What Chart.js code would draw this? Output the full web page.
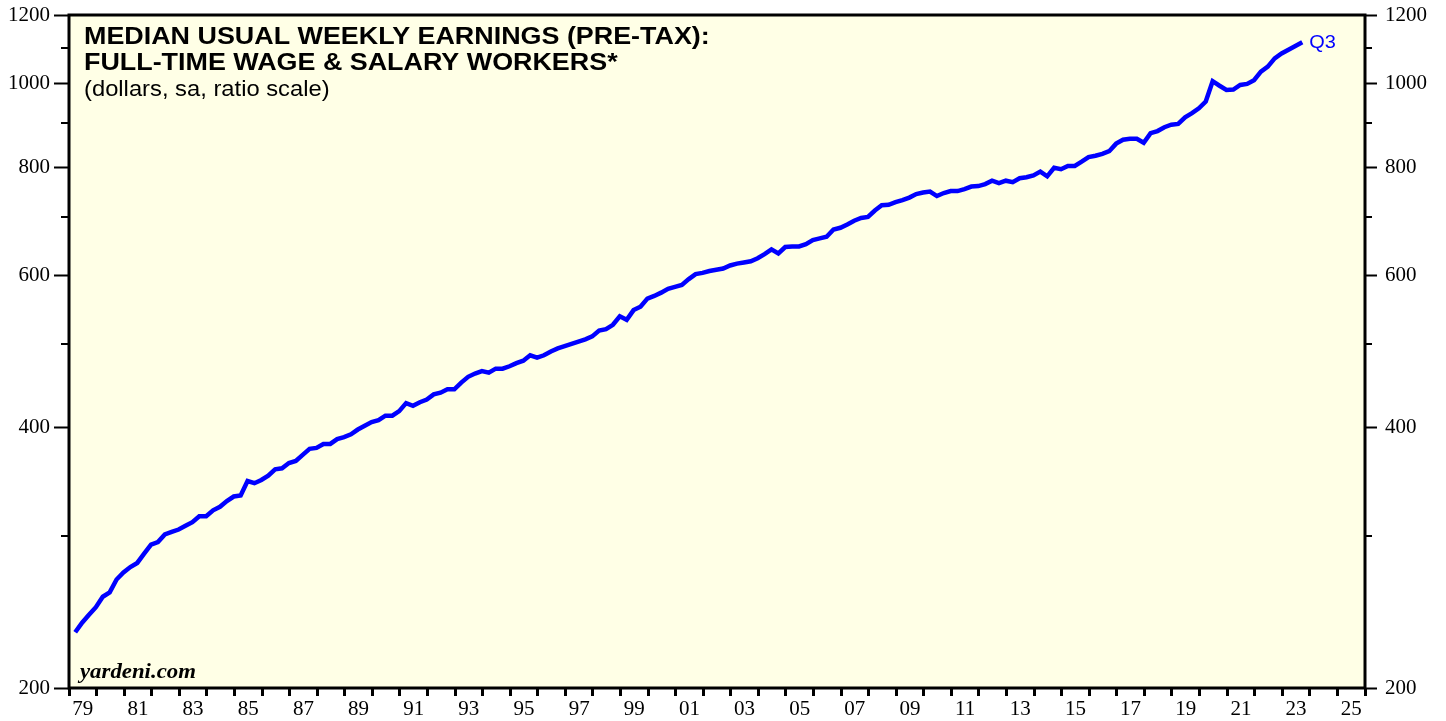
<!DOCTYPE html>
<html lang="en">
<head>
    <meta charset="UTF-8">
    <meta name="viewport" content="width=device-width, initial-scale=1.0">
    <title>Median Usual Weekly Earnings</title>
    <script src="https://cdn.jsdelivr.net/npm/chart.js"></script>
    <style>
        html, body { margin: 0; padding: 0; background: #ffffff; }
        #wrap { width: 1446px; height: 721px; }
    </style>
</head>
<body>
    <div id="wrap"><canvas id="earningsChart" width="1446" height="721"></canvas></div>

    <script>
        // median usual weekly earnings, full-time wage & salary workers
        // quarterly, 1979 Q1 .. 2023 Q3, dollars
        const firstYear = 1979;
        const weeklyEarnings = [
            232, 238, 243, 248,   // 1979
            255, 258, 267, 272,   // 1980
            276, 279, 286, 293,   // 1981
            295, 301, 303, 305,   // 1982
            308, 311, 316, 316,   // 1983
            321, 324, 329, 333,   // 1984
            334, 347, 345, 348,   // 1985
            352, 358, 359, 364,   // 1986
            366, 372, 378, 379,   // 1987
            383, 383, 388, 390,   // 1988
            393, 398, 402, 406,   // 1989
            408, 413, 413, 418,   // 1990
            427, 424, 428, 431,   // 1991
            437, 439, 443, 443,   // 1992
            451, 458, 462, 465,   // 1993
            463, 468, 468, 471,   // 1994
            475, 478, 485, 482,   // 1995
            485, 490, 494, 497,   // 1996
            500, 503, 506, 510,   // 1997
            518, 520, 526, 538,   // 1998
            533, 547, 552, 564,   // 1999
            568, 573, 579, 582,   // 2000
            585, 594, 602, 604,   // 2001
            607, 609, 611, 616,   // 2002
            619, 621, 623, 628,   // 2003
            635, 643, 636, 647,   // 2004
            648, 648, 652, 659,   // 2005
            662, 665, 678, 681,   // 2006
            687, 694, 699, 701,   // 2007
            713, 723, 724, 729,   // 2008
            733, 738, 745, 748,   // 2009
            750, 741, 747, 751,   // 2010
            751, 755, 760, 761,   // 2011
            765, 772, 767, 772,   // 2012
            769, 777, 779, 783,   // 2013
            791, 781, 799, 796,   // 2014
            803, 803, 812, 822,   // 2015
            825, 829, 835, 852,   // 2016
            861, 863, 863, 854,   // 2017
            876, 881, 890, 896,   // 2018
            898, 914, 924, 936,   // 2019
            953, 1006, 994, 983,  // 2020
            984, 996, 999, 1009,  // 2021
            1032, 1046, 1069, 1083, // 2022
            1094, 1105, 1116      // 2023
        ];
        const lastQuarterLabel = 'Q3';

        const xFirstYear = 1979;
        const xLastYear = 2026;
        const yMin = 200;
        const yMax = 1200;
        const yLabelTicks = [200, 400, 600, 800, 1000, 1200];
        const yMinorTicks = [300, 500, 700, 900, 1100];

        const titleLines = [
            'MEDIAN USUAL WEEKLY EARNINGS (PRE-TAX):',
            'FULL-TIME WAGE & SALARY WORKERS*'
        ];
        const subtitle = '(dollars, sa, ratio scale)';
        const sourceText = 'yardeni.com';

        const serif = "'Liberation Serif', 'Times New Roman', serif";
        const sans = "'Liberation Sans', Arial, sans-serif";

        // point sits near the end of its quarter, like the original
        const points = weeklyEarnings.map((v, i) => ({ x: firstYear + (i + 0.9) / 4, y: v }));

        function stretchedText(ctx, text, x, y, font, sx) {
            ctx.save();
            ctx.font = font;
            ctx.translate(x, y);
            ctx.scale(sx, 1);
            ctx.fillText(text, 0, 0);
            ctx.restore();
        }

        const plotDecor = {
            id: 'plotDecor',
            beforeDraw(chart) {
                const { ctx, chartArea: a } = chart;
                ctx.save();
                ctx.fillStyle = '#ffffe6';
                ctx.fillRect(a.left, a.top, a.right - a.left, a.bottom - a.top);
                ctx.restore();
            },
            afterDatasetsDraw(chart) {
                const { ctx, chartArea: a } = chart;
                const yl = chart.scales.y;

                ctx.save();
                // minor ticks on both sides
                ctx.strokeStyle = '#000';
                ctx.lineWidth = 2;
                yMinorTicks.forEach(v => {
                    const py = Math.round(yl.getPixelForValue(v));
                    ctx.beginPath();
                    ctx.moveTo(a.left - 8, py);
                    ctx.lineTo(a.left, py);
                    ctx.moveTo(a.right, py);
                    ctx.lineTo(a.right + 7, py);
                    ctx.stroke();
                });

                // frame
                ctx.lineWidth = 3;
                ctx.strokeRect(a.left, a.top, a.right - a.left, a.bottom - a.top);

                // title block
                ctx.fillStyle = '#000';
                ctx.textBaseline = 'alphabetic';
                ctx.textAlign = 'left';
                stretchedText(ctx, titleLines[0], a.left + 15, a.top + 29, 'bold 24px ' + sans, 1.12);
                stretchedText(ctx, titleLines[1], a.left + 15, a.top + 55, 'bold 24px ' + sans, 1.12);
                stretchedText(ctx, subtitle, a.left + 15, a.top + 81, '22px ' + sans, 1.08);

                // source
                stretchedText(ctx, sourceText, a.left + 11, a.bottom - 10, 'italic bold 20px ' + serif, 1.14);

                // end label
                const last = points[points.length - 1];
                const xs = chart.scales.x;
                ctx.fillStyle = '#0000ff';
                ctx.textBaseline = 'middle';
                stretchedText(ctx, lastQuarterLabel, xs.getPixelForValue(last.x) + 7,
                    yl.getPixelForValue(last.y) + 1, '19px ' + sans, 1.05);
                ctx.restore();
            }
        };

        function yAxis(position, width, tickLength, padding) {
            return {
                type: 'logarithmic',
                position: position,
                min: yMin,
                max: yMax,
                afterBuildTicks: s => { s.ticks = yLabelTicks.map(v => ({ value: v })); },
                afterFit: s => {
                    s.width = width;
                    s.paddingTop = 0;
                    s.paddingBottom = 0;
                },
                border: { display: false },
                grid: {
                    drawOnChartArea: false,
                    tickLength: tickLength,
                    tickWidth: 2,
                    tickColor: '#000'
                },
                ticks: {
                    autoSkip: false,
                    padding: padding,
                    color: '#000',
                    font: { family: serif, size: 21 },
                    callback: v => String(v)
                }
            };
        }

        new Chart(document.getElementById('earningsChart').getContext('2d'), {
            type: 'line',
            data: {
                datasets: [{
                    label: 'Median usual weekly earnings',
                    data: points,
                    borderColor: '#0000ff',
                    borderWidth: 4.5,
                    pointRadius: 0,
                    tension: 0,
                    fill: false,
                    yAxisID: 'y'
                }]
            },
            options: {
                responsive: false,
                animation: false,
                layout: { padding: { top: 15, left: 0, right: 0, bottom: 0 } },
                plugins: {
                    legend: { display: false },
                    tooltip: { enabled: false },
                    title: { display: false }
                },
                scales: {
                    x: {
                        type: 'linear',
                        position: 'bottom',
                        min: xFirstYear,
                        max: xLastYear,
                        afterBuildTicks: s => {
                            s.ticks = [];
                            for (let v = xFirstYear * 2; v <= xLastYear * 2; v++) {
                                s.ticks.push({ value: v / 2 });
                            }
                        },
                        afterFit: s => {
                            s.height = 33;
                            s.paddingLeft = 0;
                            s.paddingRight = 0;
                        },
                        border: { display: false },
                        grid: {
                            drawOnChartArea: false,
                            tickLength: 8,
                            tickWidth: 3,
                            tickColor: ctx => Number.isInteger(ctx.tick.value) ? '#000' : 'rgba(0,0,0,0)'
                        },
                        ticks: {
                            autoSkip: false,
                            maxRotation: 0,
                            padding: 1,
                            color: '#000',
                            font: { family: serif, size: 21 },
                            callback: v => {
                                const yr = Math.floor(v);
                                if (v - yr === 0.5 && yr % 2 === 1) {
                                    return String(yr % 100).padStart(2, '0');
                                }
                                return '';
                            }
                        }
                    },
                    y: yAxis('left', 69, 15, 4),
                    y2: yAxis('right', 81, 12, 8)
                }
            },
            plugins: [plotDecor]
        });
    </script>
</body>
</html>
